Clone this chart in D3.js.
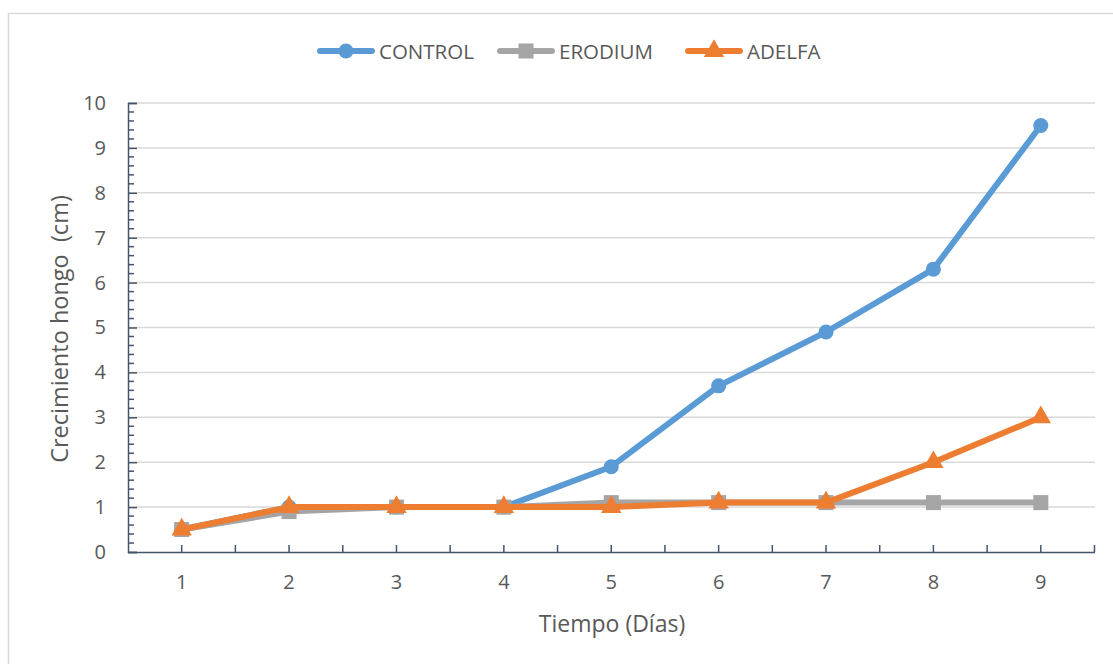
<!DOCTYPE html>
<html>
<head>
<meta charset="utf-8">
<script src="https://cdn.jsdelivr.net/npm/d3@7"></script>
<style>
  body { margin: 0; background: #fff; }
  text { font-family: "Open Sans", "Noto Sans", sans-serif; fill: #595959; }
</style>
</head>
<body>
<div id="chart"></div>
<script>

// data
var days = [1, 2, 3, 4, 5, 6, 7, 8, 9];
var control = [0.5, 1, 1, 1, 1.9, 3.7, 4.9, 6.3, 9.5];
var erodium = [0.5, 0.9, 1, 1, 1.1, 1.1, 1.1, 1.1, 1.1];
var adelfa = [0.5, 1, 1, 1, 1, 1.1, 1.1, 2, 3];
var yTicks = [0, 1, 2, 3, 4, 5, 6, 7, 8, 9, 10];

var series = [
  {name: "CONTROL", values: control, color: "#5B9BD5", marker: "circle"},
  {name: "ERODIUM", values: erodium, color: "#A5A5A5", marker: "square"},
  {name: "ADELFA", values: adelfa, color: "#ED7D31", marker: "triangle"}
];

var W = 1113, H = 664;
var margin = {top: 103, right: 18, bottom: 112, left: 128},
    width = W - margin.left - margin.right,
    height = H - margin.top - margin.bottom;

var svg = d3.select("#chart")
  .append("svg")
    .attr("width", W)
    .attr("height", H);

// chart frame
svg.append("rect")
  .attr("x", 8.5).attr("y", 13.5)
  .attr("width", W + 10).attr("height", H + 10)
  .attr("fill", "none")
  .attr("stroke", "#D9D9D9")
  .attr("stroke-width", 1.5);

var g = svg.append("g")
  .attr("transform", "translate(" + margin.left + "," + margin.top + ")");

var x = d3.scaleBand()
  .domain(days)
  .range([0, width - 0.5]);

var y = d3.scaleLinear()
  .domain([0, 10])
  .range([height, 0]);

var cx = function(d) { return x(d) + x.bandwidth() / 2; };

// gridlines
g.selectAll(".grid")
  .data(yTicks.slice(1))
  .enter().append("line")
    .attr("x1", 0).attr("x2", width)
    .attr("y1", function(d) { return y(d); })
    .attr("y2", function(d) { return y(d); })
    .attr("stroke", "#D9D9D9")
    .attr("stroke-width", 1.5);

// y axis minor ticks (every 0.2)
var minor = d3.range(0, 50).map(function(i) { return i / 5; }).filter(function(v, i) { return i % 5 != 0; });
g.selectAll(".minor")
  .data(minor)
  .enter().append("line")
    .attr("x1", 0).attr("x2", 6)
    .attr("y1", function(d) { return y(d); })
    .attr("y2", function(d) { return y(d); })
    .attr("stroke", "#44546A")
    .attr("stroke-width", 1.5);

// y axis
var yAxis = g.append("g")
  .call(d3.axisLeft(y).tickValues(yTicks).tickSize(-9).tickPadding(22));
yAxis.selectAll("line").attr("stroke", "#44546A").attr("stroke-width", 1.5);
yAxis.select(".domain").attr("stroke", "#44546A").attr("stroke-width", 1.5);
yAxis.selectAll("text")
  .style("font-size", "20px")
  .style("fill", "#595959")
  .style("font-family", "'Open Sans', sans-serif");

// x axis ticks at centres and boundaries
var xAxis = g.append("g")
  .attr("transform", "translate(0," + height + ")")
  .call(d3.axisBottom(x).tickSize(0).tickPadding(23));
xAxis.select(".domain").attr("stroke", "#44546A").attr("stroke-width", 1.5);
xAxis.selectAll("text")
  .style("font-size", "20px")
  .style("fill", "#595959")
  .style("font-family", "'Open Sans', sans-serif");

var xTickPos = [];
days.forEach(function(d) { xTickPos.push(x(d) + x.bandwidth() / 2); xTickPos.push(x(d) + x.bandwidth()); });
g.selectAll(".xtick")
  .data(xTickPos)
  .enter().append("line")
    .attr("x1", function(d) { return d; })
    .attr("x2", function(d) { return d; })
    .attr("y1", height).attr("y2", height - 7)
    .attr("stroke", "#44546A")
    .attr("stroke-width", 1.5);

// axis titles
svg.append("text")
  .attr("x", 612)
  .attr("y", 632)
  .attr("text-anchor", "middle")
  .style("font-size", "23px")
  .text("Tiempo (Días)");

svg.append("text")
  .attr("transform", "translate(68,329) rotate(-90)")
  .attr("text-anchor", "middle")
  .style("font-size", "23.5px")
  .attr("xml:space", "preserve")
  .text("Crecimiento hongo  (cm)");

// markers
function drawMarker(sel, type, color, size) {
  if (type == "circle") {
    sel.append("circle").attr("r", size).attr("fill", color);
  } else if (type == "square") {
    sel.append("rect").attr("x", -size).attr("y", -size)
      .attr("width", size * 2).attr("height", size * 2).attr("fill", color);
  } else {
    sel.append("path").attr("d", d3.symbol(d3.symbolTriangle, size * size * 3.2)).attr("fill", color);
  }
}

var line = d3.line()
  .x(function(d, i) { return cx(days[i]); })
  .y(function(d) { return y(d); });

series.forEach(function(s) {
  g.append("path")
    .datum(s.values)
    .attr("fill", "none")
    .attr("stroke", s.color)
    .attr("stroke-width", 6)
    .attr("stroke-linejoin", "round")
    .attr("stroke-linecap", "round")
    .attr("d", line);

  g.selectAll(".m-" + s.name)
    .data(s.values)
    .enter().append("g")
      .attr("transform", function(d, i) { return "translate(" + cx(days[i]) + "," + y(d) + ")"; })
      .each(function() { drawMarker(d3.select(this), s.marker, s.color, 7.5); });
});

// legend
var legendX = [320, 500, 688];
series.forEach(function(s, i) {
  var lg = svg.append("g").attr("transform", "translate(" + legendX[i] + ",51)");
  lg.append("line")
    .attr("x1", 0).attr("x2", 52)
    .attr("stroke", s.color)
    .attr("stroke-width", 6)
    .attr("stroke-linecap", "round");
  var m = lg.append("g").attr("transform", "translate(26,0)");
  drawMarker(m, s.marker, s.color, 7.5);
  lg.append("text")
    .attr("x", 59)
    .attr("y", 7.5)
    .style("font-size", "20.5px")
    .text(s.name);
});

</script>
</body>
</html>
